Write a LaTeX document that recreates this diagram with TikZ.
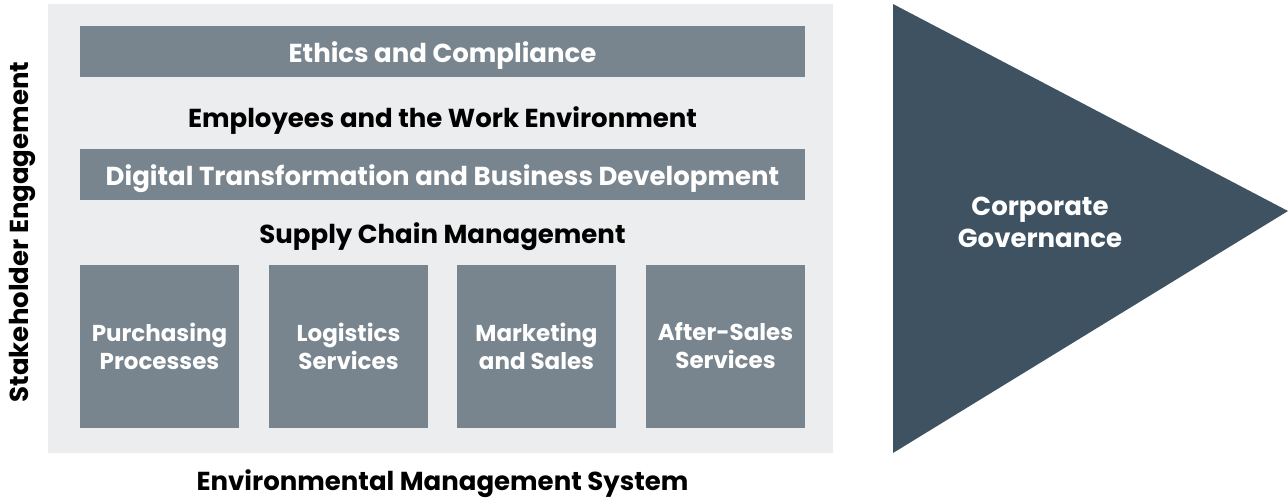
\documentclass[tikz,border=0pt]{standalone}
\usepackage{fontspec}
\setmainfont{Poppins}
\usepackage{tikz}
\definecolor{panelgray}{RGB}{236,237,239}
\definecolor{bargray}{RGB}{120,133,142}
\definecolor{govblue}{RGB}{63,82,97}
\tikzset{
  bar/.style={fill=none,draw=none,text=white,font=\bfseries\fontsize{26}{30}\selectfont},
  tile/.style={fill=none,draw=none,text=white,align=center,font=\bfseries\fontsize{23}{28}\selectfont},
  heading/.style={text=black,inner sep=0pt,font=\bfseries\fontsize{26}{30}\selectfont}
}
\begin{document}
\begin{tikzpicture}[x=1pt,y=1pt,yscale=-1,xscale=1]
\useasboundingbox (0,0) rectangle (1288,499);
%Shape: Rectangle [id:panel]
\fill[panelgray] (48,4) rectangle (833,453);
%Shape: Triangle [id:governance]
\fill[govblue] (893,4) -- (1288,211) -- (893,453) -- cycle;
%Shape: Rectangle [id:ethics]
\fill[bargray] (80,26) rectangle (805,77);
\node[bar] (ethics) at (442.5,56) {Ethics and Compliance};
% Text Node
\node[heading] (employees) at (442.5,121) {Employees and the Work Environment};
%Shape: Rectangle [id:digital]
\fill[bargray] (80,149) rectangle (805,200);
\node[bar] (digital) at (442.5,179) {Digital Transformation and Business Development};
% Text Node
\node[heading] (supply) at (442.5,237) {Supply Chain Management};
%Shape: Rectangle [id:tiles]
\fill[bargray] (80,265) rectangle (239,428);
\fill[bargray] (269,265) rectangle (428,428);
\fill[bargray] (457,265) rectangle (616,428);
\fill[bargray] (646,265) rectangle (805,428);
\node[tile] (purchasing) at (159.5,346) {Purchasing\\Processes};
\node[tile] (logistics) at (348.5,346) {Logistics\\Services};
\node[tile] (marketing) at (536.5,346) {Marketing\\and Sales};
\node[tile] (aftersales) at (725.5,346) {After-Sales\\Services};
% Text Node
\node[heading,rotate=90] (stakeholder) at (22,232) {Stakeholder Engagement};
% Text Node
\node[heading] (environmental) at (442.5,484) {Environmental Management System};
% Text Node
\node[text=white,align=center,font=\bfseries\fontsize{26}{32}\selectfont] (corporate) at (1040,222) {Corporate\\Governance};
\end{tikzpicture}
\end{document}
